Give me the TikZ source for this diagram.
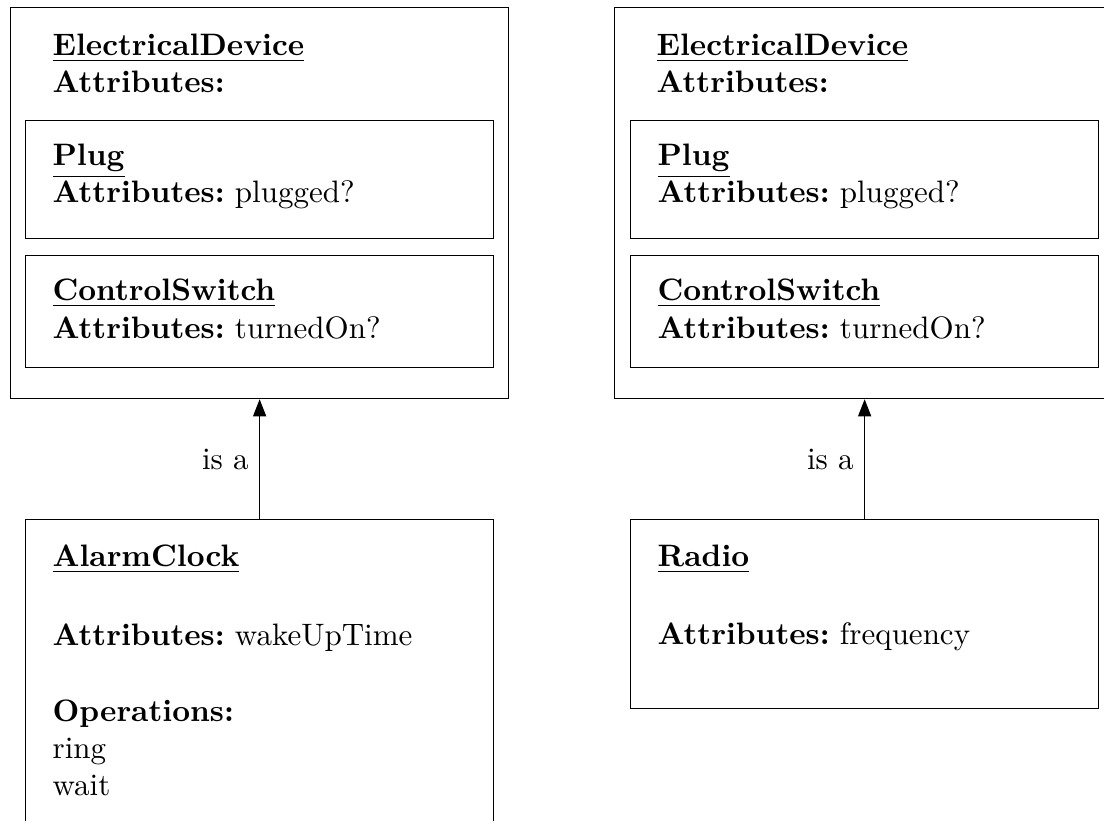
\documentclass[tikz,border=0pt]{standalone}
\usetikzlibrary{positioning, arrows.meta}
\frenchspacing

\begin{document}
\begin{tikzpicture}[
    x=0.32258pt, y=-0.32258pt,
    node distance=5.16pt,
    outerbox/.style={
      draw, inner sep=0pt, anchor=north west, minimum width=160.65pt, minimum height=126.13pt
    },
    innerbox/.style={
      draw, inner sep=0pt, minimum width=150.97pt
    },
    classtext/.style={
      align=left, text width=145pt, inner sep=0pt, anchor=north west
    },
    >={Triangle[length=5.5pt, width=4.2pt]},
  ]
    \clip (0,0) rectangle (1104,821);

    % ElectricalDevice (left)
    \node [outerbox] (device_l) at (10,7) {};
    \node [classtext, below right=8.55pt and 13.55pt of device_l.north west] (device_l_text)
      {\underline{\textbf{ElectricalDevice}}\\\textbf{Attributes:}};
    \node [innerbox, minimum height=38.06pt, anchor=north west, below right=36.45pt and 4.84pt of device_l.north west] (plug_l) {};
    \node [innerbox, minimum height=36.13pt, below=of plug_l] (switch_l) {};
    \node [classtext, below right=7.58pt and 8.71pt of plug_l.north west] (plug_l_text)
      {\underline{\textbf{Plug}}\\\textbf{Attributes:} plugged?};
    \node [classtext, below right=7.58pt and 8.71pt of switch_l.north west] (switch_l_text)
      {\underline{\textbf{ControlSwitch}}\\\textbf{Attributes:} turnedOn?};

    % ElectricalDevice (right)
    \node [outerbox] (device_r) at (614,7) {};
    \node [classtext, below right=8.55pt and 13.55pt of device_r.north west] (device_r_text)
      {\underline{\textbf{ElectricalDevice}}\\\textbf{Attributes:}};
    \node [innerbox, minimum height=38.06pt, below right=36.45pt and 5.16pt of device_r.north west] (plug_r) {};
    \node [innerbox, minimum height=36.13pt, below=of plug_r] (switch_r) {};
    \node [classtext, below right=7.58pt and 8.71pt of plug_r.north west] (plug_r_text)
      {\underline{\textbf{Plug}}\\\textbf{Attributes:} plugged?};
    \node [classtext, below right=7.58pt and 8.71pt of switch_r.north west] (switch_r_text)
      {\underline{\textbf{ControlSwitch}}\\\textbf{Attributes:} turnedOn?};

    % Subclasses
    \node [innerbox, minimum height=129pt, below=38.71pt of device_l] (clock) {};
    \node [classtext, below right=8.2pt and 8.71pt of clock.north west] (clock_text)
      {\underline{\textbf{AlarmClock}}\\[13.2pt]
       \textbf{Attributes:} wakeUpTime\\[12.6pt]
       \textbf{Operations:}\\ring\\wait};
    \node [innerbox, minimum height=60.97pt, below=38.71pt of plug_r.south |- device_r.south] (radio) {};
    \node [classtext, below right=8.2pt and 8.71pt of radio.north west] (radio_text)
      {\underline{\textbf{Radio}}\\[13.2pt]
       \textbf{Attributes:} frequency};

    % Inheritance
    \draw [->] (clock) -- node [left] {is a} (clock |- device_l.south);
    \draw [->] (radio) -- node [left] {is a} (radio |- device_r.south);

  \end{tikzpicture}
\end{document}
